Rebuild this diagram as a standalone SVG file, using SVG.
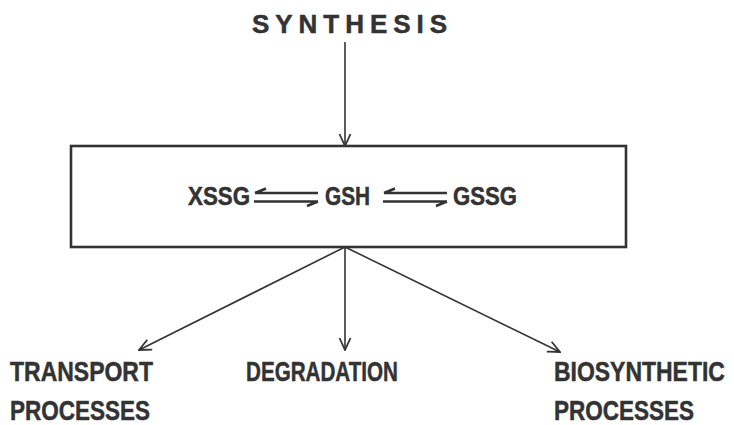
<svg xmlns="http://www.w3.org/2000/svg" width="734" height="425" viewBox="0 0 734 425">
<style>
.t{font-family:"Liberation Sans","Arial",sans-serif;font-weight:bold;fill:#333;stroke:#333;stroke-width:0.5;}
.c{stroke:#333;stroke-width:1.6;fill:none;}
.eq{stroke:#333;stroke-width:2.6;fill:none;stroke-linecap:butt;}
</style>
<defs>
<marker id="ah" viewBox="0 0 14 14" refX="13" refY="7" markerWidth="14" markerHeight="14" markerUnits="userSpaceOnUse" orient="auto">
<path d="M1,1.5 L13,7 L1,12.5" fill="none" stroke="#333" stroke-width="1.8"/>
</marker>
</defs>
<rect width="734" height="425" fill="#fff"/>
<g id="synthesis">
<text class="t" x="252" y="33" font-size="26" textLength="195" lengthAdjust="spacing">SYNTHESIS</text>
</g>
<g id="pool">
<rect x="71" y="146" width="555" height="101" fill="none" stroke="#333" stroke-width="2.6"/>
<text class="t" x="188" y="205" font-size="26" textLength="62" lengthAdjust="spacingAndGlyphs">XSSG</text>
<text class="t" x="325" y="205" font-size="26" textLength="45" lengthAdjust="spacingAndGlyphs">GSH</text>
<text class="t" x="453" y="205" font-size="26" textLength="64" lengthAdjust="spacingAndGlyphs">GSSG</text>
<path class="eq" d="M255,193 L318,193 M255,193 L266,188.5 M254,201.5 L318,201.5 M318,201.5 L307,206"/>
<path class="eq" d="M384,193 L447,193 M384,193 L395,188.5 M383,201.5 L447,201.5 M447,201.5 L436,206"/>
</g>
<g id="transport">
<text class="t" x="10" y="381" font-size="28" textLength="143" lengthAdjust="spacingAndGlyphs">TRANSPORT</text>
<text class="t" x="10" y="420" font-size="28" textLength="140" lengthAdjust="spacingAndGlyphs">PROCESSES</text>
</g>
<g id="degradation">
<text class="t" x="246" y="381" font-size="28" textLength="152" lengthAdjust="spacingAndGlyphs">DEGRADATION</text>
</g>
<g id="biosynthetic">
<text class="t" transform="translate(554,381) scale(0.82,1)" x="0" y="0" font-size="28">BIOSYNTHETIC</text>
<text class="t" x="554" y="420" font-size="28" textLength="140" lengthAdjust="spacingAndGlyphs">PROCESSES</text>
</g>
<g id="connectors">
<line class="c" x1="345" y1="42" x2="345" y2="146" marker-end="url(#ah)"/>
<line class="c" x1="345" y1="247" x2="139" y2="350" marker-end="url(#ah)"/>
<line class="c" x1="345" y1="247" x2="345" y2="350" marker-end="url(#ah)"/>
<line class="c" x1="345" y1="247" x2="560" y2="352" marker-end="url(#ah)"/>
</g>
</svg>
